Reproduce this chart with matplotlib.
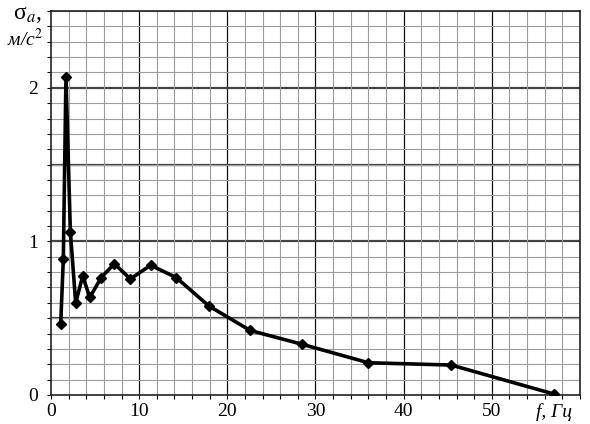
import matplotlib.pyplot as plt
from matplotlib.ticker import MultipleLocator
from matplotlib.transforms import blended_transform_factory

freq = [1.1, 1.4, 1.7, 2.2, 2.8, 3.6, 4.4, 5.7, 7.2, 9.0,
        11.3, 14.2, 17.9, 22.6, 28.5, 36.0, 45.4, 57.0]
sigma = [0.46, 0.885, 2.07, 1.06, 0.60, 0.775, 0.635, 0.765, 0.855, 0.755,
         0.845, 0.765, 0.58, 0.42, 0.33, 0.21, 0.195, 0.007]

x_ticks = [0, 10, 20, 30, 40, 50]
y_ticks = [0, 1, 2]


def create_chart():
    plt.rcParams["font.family"] = ["Liberation Serif", "DejaVu Serif"]
    plt.rcParams["mathtext.fontset"] = "stix"

    fig = plt.figure(figsize=(5.9, 4.24), dpi=100)
    ax = fig.add_axes([0.0864, 0.0684, 0.8966, 0.9056])

    ax.set_xlim(0, 60)
    ax.set_ylim(0, 2.5)

    # grid: fine lines every 2 Hz / 0.1, dark ones every 10 Hz / 0.5
    ax.xaxis.set_minor_locator(MultipleLocator(2))
    ax.yaxis.set_minor_locator(MultipleLocator(0.1))
    ax.grid(True, which="minor", color="#9c9c9c", linewidth=0.8)
    for xv in range(10, 60, 10):
        ax.axvline(xv, color="#111111", linewidth=0.9, zorder=1)
    for yv in [0.5, 1.0, 1.5, 2.0]:
        ax.axhline(yv, color="#444444", linewidth=1.6, zorder=1)

    ax.set_xticks(x_ticks)
    ax.set_yticks(y_ticks)
    ax.set_xticklabels([str(v) for v in x_ticks])
    ax.set_yticklabels([str(v) for v in y_ticks])
    ax.tick_params(which="both", direction="out", length=3,
                   width=0.8, labelsize=14, colors="black")
    ax.tick_params(axis="x", pad=3)
    ax.tick_params(axis="y", pad=6)

    for spine in ax.spines.values():
        spine.set_color("#222222")
        spine.set_linewidth(1.2)

    ax.plot(freq, sigma, color="black", linewidth=2.6,
            marker="D", markersize=5.5, zorder=3)

    trans = blended_transform_factory(ax.transData, ax.transAxes)
    ax.text(57, -0.02, "f, Гц", transform=trans, ha="center", va="top",
            fontsize=14, style="italic")

    fig.text(0.047, 0.99, r"$\mathregular{\sigma}_{a}$,",
             ha="center", va="top", fontsize=17)
    fig.text(0.042, 0.935, "м/с$^{2}$", ha="center", va="top",
             fontsize=14, style="italic")

    fig.savefig("out.png", dpi=100)
    plt.close(fig)


if __name__ == "__main__":
    create_chart()
